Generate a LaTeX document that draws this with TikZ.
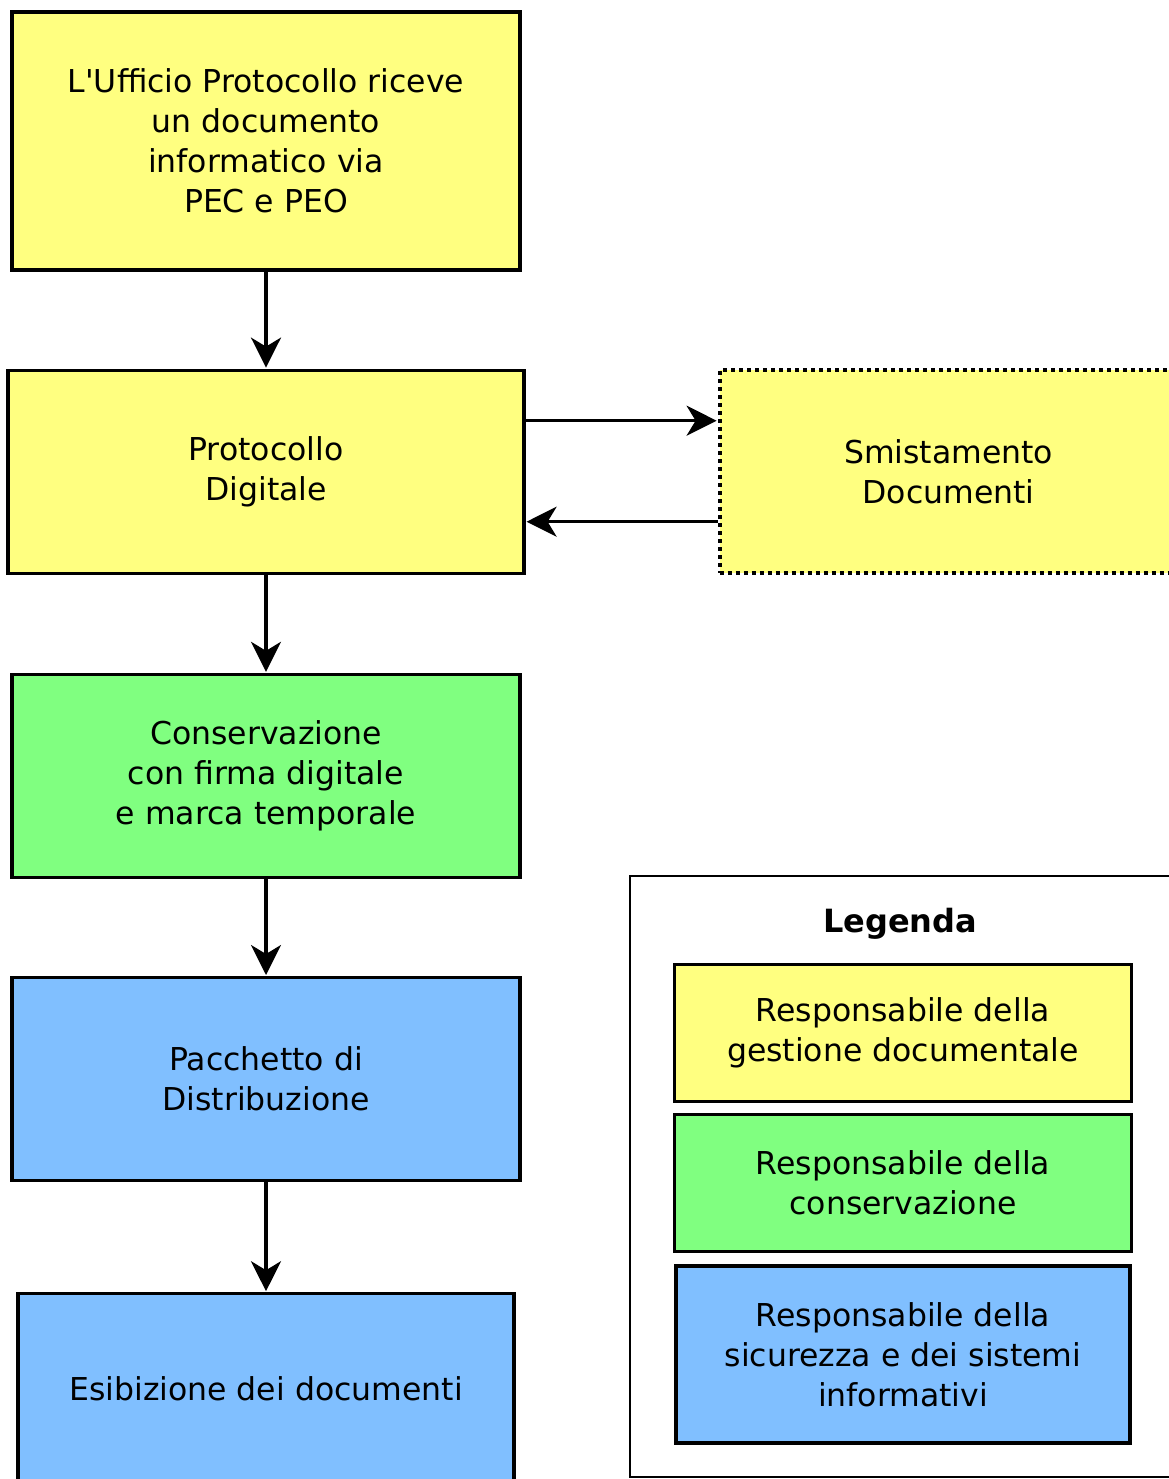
\documentclass[tikz,border=0pt]{standalone}
\usepackage{xcolor}
\usepackage{fontspec}
\setmainfont{DejaVu Sans}
\usepackage{tikz}
\usetikzlibrary{arrows.meta,positioning}

\definecolor{giallo}{RGB}{255,255,128}
\definecolor{verde}{RGB}{128,255,128}
\definecolor{azzurro}{RGB}{128,191,255}

\begin{document}
\begin{tikzpicture}[->,>={Stealth[length=30pt,width=30pt,inset=9pt]},shorten >=1pt,node distance=97pt,line width=3.2pt,
    main node/.style={rectangle,draw,align=center,font=\fontsize{31.5}{40}\selectfont,minimum width=508pt,minimum height=203pt,inner sep=0pt},
    leg node/.style={main node,minimum width=457pt,minimum height=137pt}]
    \useasboundingbox (0,0) rectangle (1168pt,-1479pt);

    \node[main node,fill=giallo,minimum height=258pt] (0) at (266pt,-141pt) {L\textquotesingle Ufficio Protocollo riceve\\un documento\\informatico via\\PEC e PEO};
    \node[main node,fill=giallo,minimum width=516pt] (1) [below=of 0] {Protocollo\\Digitale};
    \node[main node,fill=giallo,minimum width=458pt,dash pattern=on 4pt off 4pt,line width=4pt] (s) [right=192pt of 1] {Smistamento\\Documenti};
    \node[main node,fill=verde] (2) [below=98pt of 1] {Conservazione\\con firma digitale\\e marca temporale};
    \node[main node,fill=azzurro] (3) [below=of 2] {Pacchetto di\\Distribuzione};
    \node[main node,fill=azzurro,minimum width=496pt,minimum height=190pt] (4) [below=110pt of 3] {Esibizione dei documenti};

    % legenda
    \draw[-,line width=2pt] (1170pt,-876pt) -- (630pt,-876pt) -- (630pt,-1477pt) -- (1170pt,-1477pt);
    \node[font=\bfseries\fontsize{32}{36}\selectfont] (leg) at (900pt,-924pt) {Legenda};
    \node[leg node,fill=giallo] (l1) at (903pt,-1033pt) {Responsabile della\\gestione documentale};
    \node[leg node,fill=verde] (l2) [below=10pt of l1] {Responsabile della\\conservazione};
    \node[leg node,fill=azzurro,minimum width=454pt,minimum height=177pt] (l3) [below=11pt of l2] {Responsabile della\\sicurezza e dei sistemi\\informativi};

    \path
    (0) edge (1)
    ([yshift=51pt]1.east) edge ([yshift=51pt]s.west)
    ([yshift=-50pt]s.west) edge ([yshift=-50pt]1.east)
    (1) edge (2)
    (2) edge (3)
    (3) edge (4);
  \end{tikzpicture}
\end{document}
